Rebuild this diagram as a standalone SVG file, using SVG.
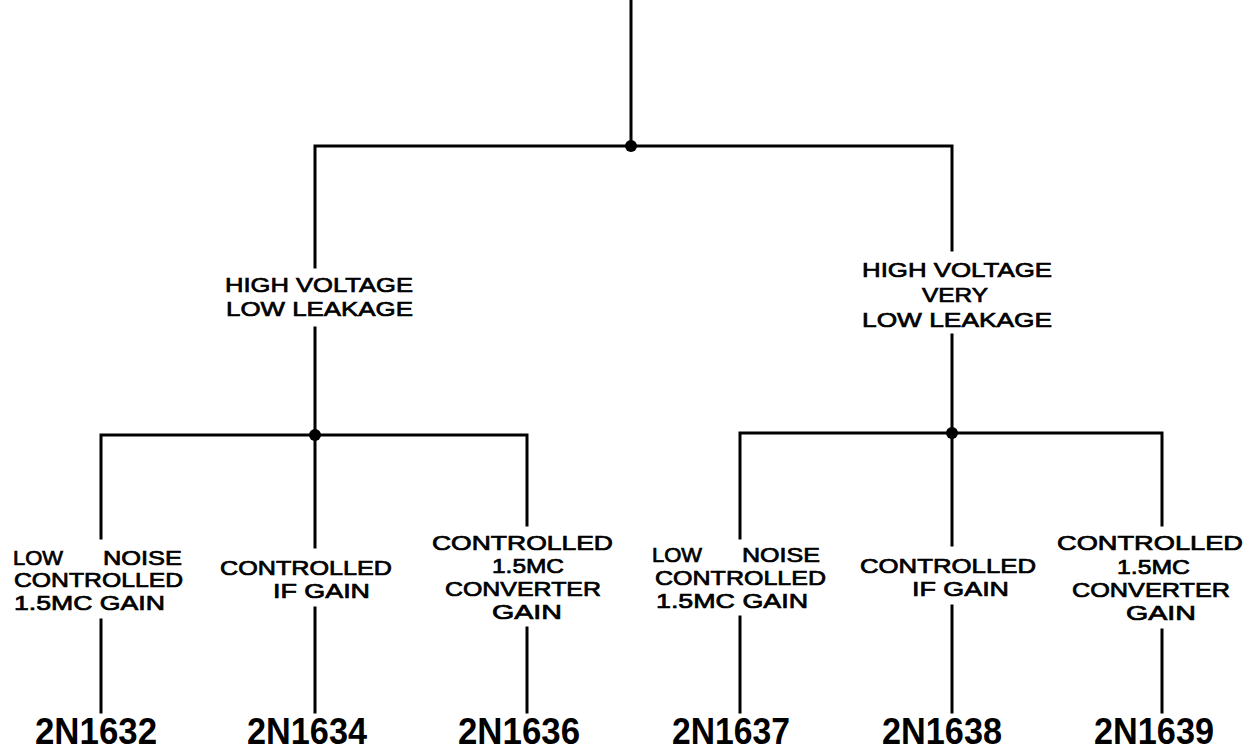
<svg xmlns="http://www.w3.org/2000/svg" width="1252" height="750" viewBox="0 0 1252 750">
<style>
.ln{stroke:#000;stroke-width:3;fill:none;stroke-linecap:square;stroke-linejoin:miter}
.dot{fill:#000}
.t{font-family:"Liberation Sans","DejaVu Sans",sans-serif;font-size:20px;fill:#000;stroke:#000;stroke-width:0.7}
.h{font-size:21px}
.pn{font-family:"Liberation Sans","DejaVu Sans",sans-serif;font-size:37px;font-weight:bold;fill:#000}
</style>
<rect width="1252" height="750" fill="#fff"/>
<g id="connectors">
<path class="ln" d="M631 0V146M315 146H952M315 146V267M315 328V435M952 146V250M952 335V433"/>
<path class="ln" d="M101 435H527M101 435V538M101 620V712M315 435V547M315 608V712M527 435V525M527 628V712"/>
<path class="ln" d="M740 433H1162M740 433V538M740 617V712M952 433V545M952 606V712M1162 433V525M1162 630V712"/>
<circle class="dot" cx="631" cy="146" r="6"/>
<circle class="dot" cx="315" cy="435" r="6"/>
<circle class="dot" cx="952" cy="433" r="6"/>
</g>
<g id="hv-low">
<text class="t h" x="225" y="292" textLength="188" lengthAdjust="spacingAndGlyphs">HIGH VOLTAGE</text>
<text class="t h" x="226" y="316" textLength="187" lengthAdjust="spacingAndGlyphs">LOW LEAKAGE</text>
</g>
<g id="hv-verylow">
<text class="t h" x="862" y="277" textLength="190" lengthAdjust="spacingAndGlyphs">HIGH VOLTAGE</text>
<text class="t h" x="922" y="302" textLength="66" lengthAdjust="spacingAndGlyphs">VERY</text>
<text class="t h" x="862" y="327" textLength="190" lengthAdjust="spacingAndGlyphs">LOW LEAKAGE</text>
</g>
<g id="c1">
<text class="t" x="13" y="565" textLength="50" lengthAdjust="spacingAndGlyphs">LOW</text>
<text class="t" x="103" y="565" textLength="79" lengthAdjust="spacingAndGlyphs">NOISE</text>
<text class="t" x="14" y="587" textLength="169" lengthAdjust="spacingAndGlyphs">CONTROLLED</text>
<text class="t" x="14" y="610" textLength="151" lengthAdjust="spacingAndGlyphs">1.5MC GAIN</text>
<text class="pn" x="35" y="744" textLength="122" lengthAdjust="spacingAndGlyphs">2N1632</text>
</g>
<g id="c2">
<text class="t" x="220" y="575" textLength="172" lengthAdjust="spacingAndGlyphs">CONTROLLED</text>
<text class="t" x="273" y="598" textLength="97" lengthAdjust="spacingAndGlyphs">IF GAIN</text>
<text class="pn" x="247" y="744" textLength="120" lengthAdjust="spacingAndGlyphs">2N1634</text>
</g>
<g id="c3">
<text class="t" x="432" y="550" textLength="181" lengthAdjust="spacingAndGlyphs">CONTROLLED</text>
<text class="t" x="492" y="573" textLength="72" lengthAdjust="spacingAndGlyphs">1.5MC</text>
<text class="t" x="445" y="596" textLength="156" lengthAdjust="spacingAndGlyphs">CONVERTER</text>
<text class="t" x="492" y="619" textLength="70" lengthAdjust="spacingAndGlyphs">GAIN</text>
<text class="pn" x="458" y="744" textLength="122" lengthAdjust="spacingAndGlyphs">2N1636</text>
</g>
<g id="c4">
<text class="t" x="652" y="562" textLength="50" lengthAdjust="spacingAndGlyphs">LOW</text>
<text class="t" x="742" y="562" textLength="78" lengthAdjust="spacingAndGlyphs">NOISE</text>
<text class="t" x="655" y="585" textLength="171" lengthAdjust="spacingAndGlyphs">CONTROLLED</text>
<text class="t" x="656" y="608" textLength="152" lengthAdjust="spacingAndGlyphs">1.5MC GAIN</text>
<text class="pn" x="672" y="744" textLength="118" lengthAdjust="spacingAndGlyphs">2N1637</text>
</g>
<g id="c5">
<text class="t" x="860" y="573" textLength="176" lengthAdjust="spacingAndGlyphs">CONTROLLED</text>
<text class="t" x="912" y="596" textLength="97" lengthAdjust="spacingAndGlyphs">IF GAIN</text>
<text class="pn" x="882" y="744" textLength="120" lengthAdjust="spacingAndGlyphs">2N1638</text>
</g>
<g id="c6">
<text class="t" x="1057" y="550" textLength="186" lengthAdjust="spacingAndGlyphs">CONTROLLED</text>
<text class="t" x="1117" y="574" textLength="73" lengthAdjust="spacingAndGlyphs">1.5MC</text>
<text class="t" x="1072" y="597" textLength="158" lengthAdjust="spacingAndGlyphs">CONVERTER</text>
<text class="t" x="1126" y="620" textLength="70" lengthAdjust="spacingAndGlyphs">GAIN</text>
<text class="pn" x="1094" y="744" textLength="120" lengthAdjust="spacingAndGlyphs">2N1639</text>
</g>
</svg>
